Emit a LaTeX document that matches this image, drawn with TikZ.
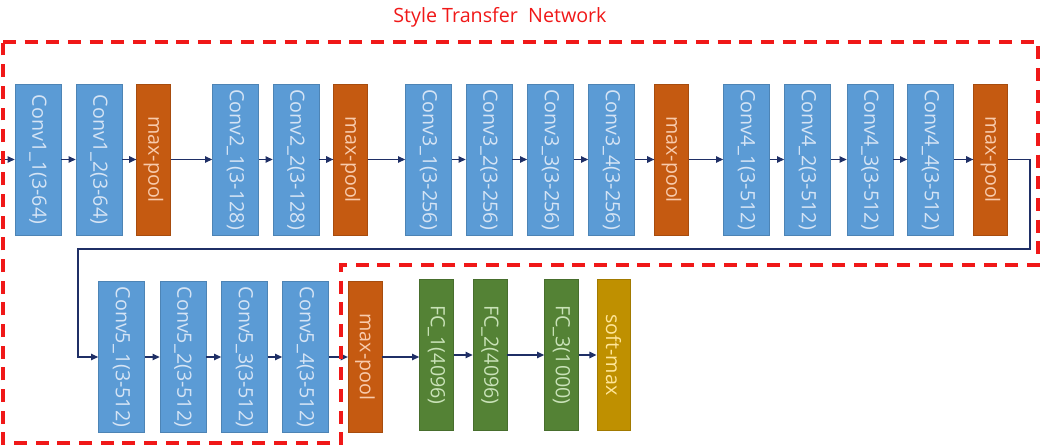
\documentclass[tikz,border=0pt]{standalone}
\usepackage{fontspec}
\setmainfont{Open Sans}
\usepackage{tikz}
\usetikzlibrary{arrows.meta}
\definecolor{convblue}{HTML}{5B9BD5}
\definecolor{convtext}{HTML}{D5E4F5}
\definecolor{poolorange}{HTML}{C55A11}
\definecolor{pooltext}{HTML}{F8CBAD}
\definecolor{fcgreen}{HTML}{548235}
\definecolor{fctext}{HTML}{C9E2B8}
\definecolor{softgold}{HTML}{BF9000}
\definecolor{softtext}{HTML}{FFE699}
\definecolor{linknavy}{HTML}{1F2F66}
\definecolor{framered}{HTML}{F01818}

\begin{document}
\begin{tikzpicture}[
    x=0.025cm, y=-0.025cm,
    layer/.style={rectangle, rotate=-90, inner sep=0pt, line width=0.4pt,
        minimum width=3.775cm, font=\fontsize{14}{16}\selectfont},
    conv/.style={layer, fill=convblue, draw=convblue!85!black, text=convtext, minimum height=1.15cm},
    pool/.style={layer, fill=poolorange, draw=poolorange!85!black, text=pooltext, minimum height=0.84cm},
    fc/.style={layer, fill=fcgreen, draw=fcgreen!85!black, text=fctext, minimum height=0.85cm},
    soft/.style={layer, fill=softgold, draw=softgold!85!black, text=softtext, minimum height=0.83cm},
    link/.style={-{Triangle[length=1.8mm, width=1.6mm]}, line width=1.1pt, linknavy},
    frame/.style={framered, line width=2.8pt, dash pattern=on 9.2pt off 6.2pt}
]
    \useasboundingbox (0,0) rectangle (1047,447);

    % Title
    \node[framered, font=\fontsize{14}{16}\selectfont] (title) at (500,17) {Style Transfer\ \ Network};

    % First row
    \node[conv] (c11) at (38,159.5) {Conv1\_1(3-64)};
    \node[conv] (c12) at (99,159.5) {Conv1\_2(3-64)};
    \node[pool] (p1) at (153.5,159.5) {max-pool};
    \node[conv] (c21) at (235.5,159.5) {Conv2\_1(3-128)};
    \node[conv] (c22) at (296,159.5) {Conv2\_2(3-128)};
    \node[pool] (p2) at (350.5,159.5) {max-pool};
    \node[conv] (c31) at (428.5,159.5) {Conv3\_1(3-256)};
    \node[conv] (c32) at (489,159.5) {Conv3\_2(3-256)};
    \node[conv] (c33) at (550.5,159.5) {Conv3\_3(3-256)};
    \node[conv] (c34) at (611.5,159.5) {Conv3\_4(3-256)};
    \node[pool] (p3) at (671.5,159.5) {max-pool};
    \node[conv] (c41) at (746.5,159.5) {Conv4\_1(3-512)};
    \node[conv] (c42) at (807.5,159.5) {Conv4\_2(3-512)};
    \node[conv] (c43) at (870,159.5) {Conv4\_3(3-512)};
    \node[conv] (c44) at (930.5,159.5) {Conv4\_4(3-512)};
    \node[pool] (p4) at (990.5,159.5) {max-pool};

    % Second row
    \node[conv] (c51) at (121.5,357) {Conv5\_1(3-512)};
    \node[conv] (c52) at (183,357) {Conv5\_2(3-512)};
    \node[conv] (c53) at (244.5,357) {Conv5\_3(3-512)};
    \node[conv] (c54) at (305.5,357) {Conv5\_4(3-512)};
    \node[pool] (p5) at (365,357) {max-pool};
    \node[fc] (fc1) at (436.5,355) {FC\_1(4096)};
    \node[fc] (fc2) at (490,355) {FC\_2(4096)};
    \node[fc] (fc3) at (561.5,355) {FC\_3(1000)};
    \node[soft] (sm) at (613.5,355) {soft-max};

    % Connectors
    \coordinate (in) at (0,159.5);
    \draw[link] (in) -- (c11);
    \draw[link] (c11) -- (c12);
    \draw[link] (c12) -- (p1);
    \draw[link] (p1) -- (c21);
    \draw[link] (c21) -- (c22);
    \draw[link] (c22) -- (p2);
    \draw[link] (p2) -- (c31);
    \draw[link] (c31) -- (c32);
    \draw[link] (c32) -- (c33);
    \draw[link] (c33) -- (c34);
    \draw[link] (c34) -- (p3);
    \draw[link] (p3) -- (c41);
    \draw[link] (c41) -- (c42);
    \draw[link] (c42) -- (c43);
    \draw[link] (c43) -- (c44);
    \draw[link] (c44) -- (p4);

    \coordinate (turnR) at (1030,249);
    \coordinate (turnL) at (78,249);
    \draw[link, line width=0.9pt] (p4.north) -| (turnR) -- (turnL) |- (c51);

    \draw[link] (c51) -- (c52);
    \draw[link] (c52) -- (c53);
    \draw[link] (c53) -- (c54);
    \draw[link] (c54) -- (p5);
    \draw[link] (p5.north) -- (p5.north -| fc1.south);
    \draw[link] (fc1) -- (fc2);
    \draw[link] (fc2) -- (fc3);
    \draw[link] (fc3) -- (sm);

    % Style transfer region
    \draw[frame] (3,42) -- (1038,42) -- (1038,265) -- (341,265) -- (341,443) -- (3,443) -- cycle;
\end{tikzpicture}
\end{document}
